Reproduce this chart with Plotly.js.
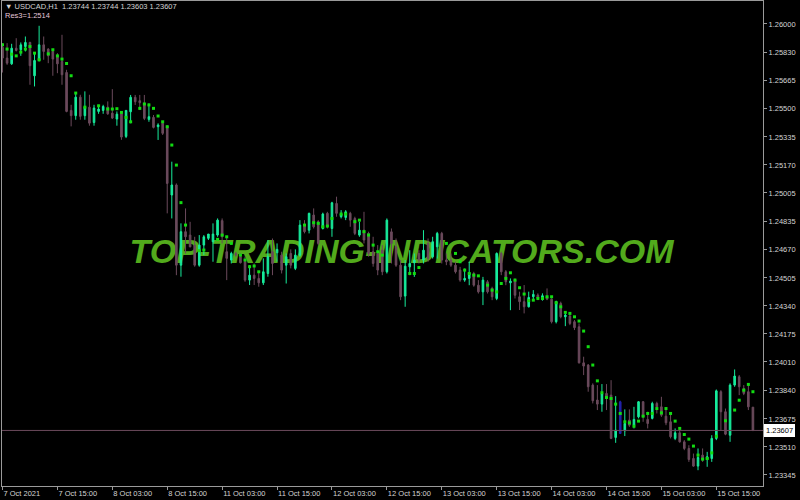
<!DOCTYPE html>
<html><head><meta charset="utf-8">
<script src="https://cdn.plot.ly/plotly-3.0.1.min.js"></script>
<style>html,body{margin:0;padding:0;background:#000;} #chart{width:800px;height:500px;}</style>
</head><body><div id="chart"></div>
<script>
const symbolLabel = 'USDCAD,H1';
const indicatorLabel = 'Res3=1.2514';
const watermark = 'TOP-TRADING-INDICATORS.COM';

const openP = [
1.25863,1.25799,1.25765,1.25857,1.25848,1.25867,1.25891,1.25695,1.25785,1.25877,
1.25852,1.25838,1.25812,1.25779,1.25714,1.25491,1.25460,1.25569,1.25460,1.25510,
1.25420,1.25485,1.25491,1.25510,1.25475,1.25440,1.25471,1.25338,1.25483,1.25568,
1.25548,1.25532,1.25438,1.25450,1.25395,1.25415,1.25399,1.24993,1.25052,1.24580,
1.24777,1.24757,1.24698,1.24580,1.24698,1.24738,1.24718,1.24757,1.24842,1.24659,
1.24610,1.24649,1.24630,1.24600,1.24492,1.24521,1.24502,1.24476,1.24531,1.24659,
1.24653,1.24639,1.24580,1.24649,1.24561,1.24639,1.24816,1.24786,1.24875,1.24836,
1.24796,1.24885,1.24796,1.24943,1.24865,1.24861,1.24885,1.24855,1.24757,1.24786,
1.24767,1.24659,1.24649,1.24669,1.24541,1.24776,1.24688,1.24580,1.24398,1.24570,
1.24594,1.24649,1.24610,1.24708,1.24629,1.24688,1.24767,1.24610,1.24610,1.24580,
1.24551,1.24492,1.24502,1.24531,1.24462,1.24423,1.24482,1.24443,1.24384,1.24649,
1.24541,1.24476,1.24492,1.24394,1.24365,1.24335,1.24394,1.24404,1.24378,1.24394,
1.24380,1.24247,1.24355,1.24276,1.24280,1.24247,1.24217,1.24005,1.23992,1.23874,
1.23786,1.23762,1.23825,1.23815,1.23566,1.23589,1.23605,1.23668,1.23638,1.23687,
1.23776,1.23672,1.23678,1.23766,1.23746,1.23691,1.23658,1.23560,1.23593,1.23540,
1.23501,1.23442,1.23397,1.23462,1.23436,1.23442,1.23560,1.23835,1.23717,1.23579,
1.23874,1.23923,1.23854,1.23835,1.23744];
const highP = [
1.25887,1.25887,1.25883,1.25916,1.25891,1.25926,1.25895,1.25834,1.25989,1.25926,
1.25857,1.25848,1.25828,1.25936,1.25730,1.25524,1.25597,1.25583,1.25603,1.25583,
1.25524,1.25524,1.25524,1.25544,1.25616,1.25485,1.25485,1.25491,1.25582,1.25582,
1.25582,1.25582,1.25532,1.25464,1.25415,1.25424,1.25399,1.25189,1.25061,1.24826,
1.24914,1.24835,1.24747,1.24757,1.24757,1.24763,1.24826,1.24855,1.24855,1.24747,
1.24659,1.24659,1.24649,1.24630,1.24580,1.24590,1.24541,1.24620,1.24728,1.24737,
1.24708,1.24659,1.24649,1.24673,1.24673,1.24845,1.24845,1.24889,1.24914,1.24845,
1.24889,1.24894,1.24953,1.24983,1.24904,1.24904,1.24894,1.24865,1.24836,1.24894,
1.24777,1.24747,1.24698,1.24698,1.24855,1.24796,1.24737,1.24610,1.24610,1.24668,
1.24649,1.24668,1.24786,1.24737,1.24747,1.24776,1.24776,1.24649,1.24649,1.24600,
1.24570,1.24560,1.24600,1.24541,1.24492,1.24511,1.24492,1.24453,1.24655,1.24659,
1.24551,1.24502,1.24502,1.24424,1.24463,1.24424,1.24433,1.24414,1.24414,1.24443,
1.24384,1.24371,1.24365,1.24296,1.24296,1.24257,1.24237,1.24041,1.23998,1.23884,
1.23874,1.23880,1.23880,1.23903,1.23809,1.23782,1.23731,1.23731,1.23746,1.23780,
1.23780,1.23717,1.23776,1.23776,1.23805,1.23736,1.23707,1.23619,1.23619,1.23550,
1.23520,1.23471,1.23501,1.23501,1.23481,1.23579,1.23848,1.23844,1.23736,1.23884,
1.23966,1.23933,1.23874,1.23874,1.23744];
const lowP = [
1.25714,1.25759,1.25759,1.25838,1.25812,1.25838,1.25642,1.25632,1.25779,1.25789,
1.25769,1.25695,1.25710,1.25642,1.25480,1.25397,1.25436,1.25436,1.25436,1.25401,
1.25401,1.25471,1.25471,1.25465,1.25440,1.25401,1.25318,1.25328,1.25415,1.25523,
1.25493,1.25434,1.25424,1.25385,1.25317,1.25346,1.24885,1.24855,1.24521,1.24512,
1.24649,1.24685,1.24571,1.24571,1.24639,1.24728,1.24600,1.24747,1.24708,1.24492,
1.24590,1.24630,1.24590,1.24482,1.24463,1.24463,1.24453,1.24463,1.24512,1.24521,
1.24600,1.24531,1.24472,1.24561,1.24551,1.24630,1.24767,1.24767,1.24796,1.24698,
1.24790,1.24796,1.24747,1.24865,1.24855,1.24845,1.24806,1.24757,1.24747,1.24708,
1.24630,1.24571,1.24521,1.24521,1.24531,1.24590,1.24570,1.24374,1.24335,1.24521,
1.24511,1.24590,1.24590,1.24600,1.24619,1.24619,1.24590,1.24580,1.24570,1.24531,
1.24482,1.24482,1.24462,1.24453,1.24413,1.24345,1.24413,1.24374,1.24374,1.24521,
1.24462,1.24315,1.24384,1.24316,1.24296,1.24331,1.24374,1.24374,1.24371,1.24374,
1.24237,1.24237,1.24267,1.24221,1.24227,1.24198,1.24001,1.23933,1.23835,1.23766,
1.23727,1.23717,1.23727,1.23556,1.23534,1.23589,1.23574,1.23628,1.23619,1.23678,
1.23658,1.23619,1.23672,1.23707,1.23687,1.23638,1.23560,1.23550,1.23535,1.23491,
1.23422,1.23393,1.23373,1.23422,1.23393,1.23422,1.23550,1.23609,1.23579,1.23540,
1.23864,1.23815,1.23815,1.23727,1.23603];
const closeP = [
1.25799,1.25769,1.25857,1.25844,1.25877,1.25891,1.25754,1.25785,1.25877,1.25838,
1.25812,1.25793,1.25765,1.25701,1.25485,1.25460,1.25569,1.25456,1.25510,1.25416,
1.25505,1.25499,1.25514,1.25471,1.25446,1.25469,1.25334,1.25491,1.25568,1.25542,
1.25536,1.25444,1.25454,1.25391,1.25405,1.25356,1.25061,1.25052,1.24580,1.24777,
1.24747,1.24688,1.24580,1.24698,1.24747,1.24763,1.24763,1.24845,1.24747,1.24620,
1.24649,1.24639,1.24594,1.24492,1.24521,1.24502,1.24476,1.24541,1.24630,1.24590,
1.24673,1.24551,1.24630,1.24580,1.24639,1.24816,1.24777,1.24885,1.24806,1.24708,
1.24881,1.24806,1.24947,1.24885,1.24881,1.24894,1.24845,1.24767,1.24786,1.24728,
1.24649,1.24590,1.24551,1.24541,1.24845,1.24708,1.24580,1.24394,1.24574,1.24590,
1.24610,1.24610,1.24668,1.24619,1.24718,1.24767,1.24610,1.24600,1.24580,1.24541,
1.24492,1.24502,1.24535,1.24462,1.24423,1.24492,1.24423,1.24394,1.24649,1.24541,
1.24482,1.24486,1.24403,1.24365,1.24335,1.24390,1.24408,1.24384,1.24400,1.24380,
1.24247,1.24365,1.24276,1.24286,1.24237,1.24212,1.24005,1.23986,1.23864,1.23782,
1.23762,1.23825,1.23801,1.23560,1.23609,1.23776,1.23648,1.23638,1.23672,1.23776,
1.23687,1.23648,1.23766,1.23746,1.23697,1.23652,1.23570,1.23593,1.23540,1.23501,
1.23436,1.23397,1.23448,1.23436,1.23452,1.23560,1.23840,1.23717,1.23585,1.23874,
1.23927,1.23864,1.23825,1.23746,1.23607];
const resDots = [
1.25877,1.25852,1.25822,1.25812,1.25834,1.25852,1.25867,1.25828,1.25789,null,
1.25824,1.25848,1.25812,1.25793,1.25767,1.25695,1.25593,null,1.25510,null,
null,1.25518,null,1.25499,1.25499,1.25501,1.25479,1.25450,1.25424,null,
1.25503,1.25529,1.25523,1.25503,1.25458,1.25424,1.25395,1.25287,1.25169,1.24948,
1.24816,null,null,1.24665,1.24669,null,null,1.24732,1.24757,1.24747,
1.24708,null,1.24639,1.24610,1.24571,1.24575,1.24541,null,null,null,
null,null,null,null,null,null,1.24816,null,1.24830,1.24826,
1.24806,1.24810,1.24855,null,1.24881,1.24881,null,1.24836,1.24845,1.24777,
1.24757,1.24698,1.24659,1.24639,null,null,null,null,null,1.24531,
1.24531,1.24566,null,null,null,null,null,1.24708,null,1.24649,
1.24600,1.24551,1.24531,1.24521,1.24517,null,1.24462,1.24433,1.24423,1.24472,
1.24502,1.24535,1.24492,1.24447,1.24410,1.24371,1.24374,1.24384,1.24384,1.24394,
1.24394,1.24359,1.24335,1.24302,1.24296,1.24276,1.24251,1.24192,1.24100,1.23992,
1.23899,1.23829,1.23801,1.23795,1.23762,1.23707,1.23658,1.23652,1.23632,1.23662,
1.23691,1.23707,1.23707,1.23736,1.23711,1.23736,1.23707,1.23662,1.23619,1.23583,
1.23556,1.23515,1.23462,1.23438,1.23442,1.23475,1.23573,null,1.23664,null,
1.23727,1.23785,1.23844,1.23878,1.23835];
const signalBars = [135];

const xTickIdx = [0,12,24,36,48,60,72,84,96,108,120,132,144,156];
const xTickText = ['7 Oct 2021','7 Oct 15:00','8 Oct 03:00','8 Oct 15:00','11 Oct 03:00','11 Oct 15:00',
  '12 Oct 03:00','12 Oct 15:00','13 Oct 03:00','13 Oct 15:00','14 Oct 03:00','14 Oct 15:00','15 Oct 03:00','15 Oct 15:00'];
const yTickVals = [1.26000,1.25830,1.25665,1.25500,1.25335,1.25170,1.25005,1.24835,1.24670,
  1.24505,1.24340,1.24175,1.24010,1.23840,1.23675,1.23510,1.23345];

const bull = '#17ec9c', bear = '#6b4a5c', sig = '#2222aa', dotCol = '#12dc12';
const frame = '#9a9a9a', txt = '#d4d4d4';
const idx = openP.map((_, i) => i);
const mainIdx = idx.filter(i => !signalBars.includes(i));
const pick = (arr, ids) => ids.map(i => arr[i]);
const last = closeP.length - 1;

const traces = [
  {type:'candlestick', x: mainIdx, open: pick(openP, mainIdx), high: pick(highP, mainIdx),
   low: pick(lowP, mainIdx), close: pick(closeP, mainIdx), whiskerwidth: 0,
   increasing:{line:{color:bull,width:1}, fillcolor:bull},
   decreasing:{line:{color:bear,width:1}, fillcolor:bear},
   hoverinfo:'skip', showlegend:false},
  {type:'candlestick', x: signalBars, open: pick(openP, signalBars), high: pick(highP, signalBars),
   low: pick(lowP, signalBars), close: pick(closeP, signalBars), whiskerwidth: 0,
   increasing:{line:{color:sig,width:1}, fillcolor:sig},
   decreasing:{line:{color:sig,width:1}, fillcolor:sig},
   hoverinfo:'skip', showlegend:false},
  {type:'scatter', mode:'markers', x: idx, y: resDots,
   marker:{symbol:'square', size:3, color:dotCol, line:{width:0}}, hoverinfo:'skip', showlegend:false}
];

const f = (s) => ({family:'Liberation Sans, Arial, sans-serif', size:s, color:txt});
const header = '\u25BC ' + symbolLabel + '  ' + [openP[last], highP[last], lowP[last], closeP[last]].map(v => v.toFixed(5)).join(' ');

const layout = {
  width:800, height:500, margin:{l:2, r:37, t:1, b:14},
  paper_bgcolor:'#000', plot_bgcolor:'#000', showlegend:false, boxgap:0.5,
  xaxis:{range:[-0.11,166.2], tickmode:'array', tickvals:xTickIdx, ticktext:xTickText,
    ticks:'outside', ticklen:3, tickcolor:frame, tickfont:f(7.5), ticklabelposition:'outside right',
    showgrid:false, zeroline:false, showline:true, linecolor:frame, linewidth:1, mirror:true,
    rangeslider:{visible:false}, fixedrange:true},
  yaxis:{side:'right', range:[1.23280,1.26135], tickmode:'array', tickvals:yTickVals,
    ticktext:yTickVals.map(v => v.toFixed(5)), ticks:'outside', ticklen:3, tickcolor:frame,
    tickfont:f(7.5), showgrid:false, zeroline:false, showline:true, linecolor:frame, linewidth:1,
    mirror:true, fixedrange:true},
  shapes:[
    {type:'line', xref:'paper', x0:0, x1:1, yref:'y', y0:closeP[last], y1:closeP[last],
     line:{color:bear, width:1}},
    {type:'rect', xref:'paper', yref:'paper', x0:0.20, x1:0.85, y0:0.436, y1:0.546, layer:'below',
     line:{width:0}, fillcolor:'rgba(0,0,0,0)',
     label:{text:watermark, textposition:'middle center',
       font:{family:'Liberation Sans, Arial, sans-serif', size:34, color:'#52aa1c', weight:'bold', style:'italic'}}}
  ],
  annotations:[
    {xref:'paper', yref:'paper', x:0, y:1, xanchor:'left', yanchor:'top', xshift:2, yshift:0,
     text:header, showarrow:false, font:f(7.5), borderpad:0},
    {xref:'paper', yref:'paper', x:0, y:1, xanchor:'left', yanchor:'top', xshift:2, yshift:-9,
     text:indicatorLabel, showarrow:false, font:{family:'Liberation Sans, Arial, sans-serif', size:7.5, color:'#e6c6d8'}, borderpad:0},
    {xref:'paper', yref:'y', x:1, y:closeP[last], xanchor:'left', yanchor:'middle', xshift:1,
     text:closeP[last].toFixed(5), showarrow:false, bgcolor:'#ffffff', bordercolor:'#ffffff', borderpad:1,
     font:{family:'Liberation Sans, Arial, sans-serif', size:7.5, color:'#000'}}
  ]
};
Plotly.newPlot('chart', traces, layout, {displayModeBar:false, staticPlot:true});
</script></body></html>
